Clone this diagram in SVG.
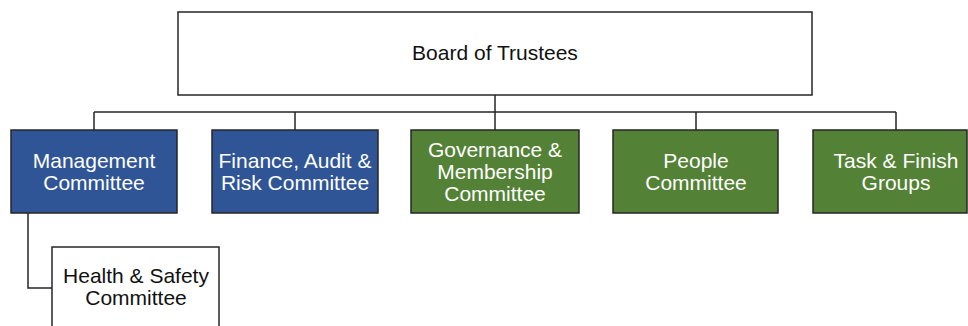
<svg xmlns="http://www.w3.org/2000/svg" width="968" height="326" viewBox="0 0 968 326">
<style>
.box{stroke:#262626;stroke-width:1.5}
.w{fill:#ffffff}
.b{fill:#2f5597}
.g{fill:#538135}
text{font-family:"Liberation Sans",Arial,sans-serif;font-size:21px;text-anchor:middle}
.tw{fill:#ffffff}
.tk{fill:#111111}
.conn{fill:none;stroke:#262626;stroke-width:1.5}
</style>
<rect width="968" height="326" fill="#ffffff"/>
<g id="connectors">
<path class="conn" d="M495 95V112M94 112H896M94 112V130M295 112V130M495 112V130M696 112V130M896 112V130"/>
<path class="conn" d="M28 213V288H52"/>
</g>
<g id="board">
<rect class="box w" x="178" y="12" width="634" height="83"/>
<text class="tk" x="495" y="60">Board of Trustees</text>
</g>
<g id="management">
<rect class="box b" x="11" y="130" width="166" height="83"/>
<text class="tw" x="94" y="168">Management</text>
<text class="tw" x="94" y="190">Committee</text>
</g>
<g id="finance">
<rect class="box b" x="212" y="130" width="166" height="83"/>
<text class="tw" x="295" y="168">Finance, Audit &amp;</text>
<text class="tw" x="295" y="190">Risk Committee</text>
</g>
<g id="governance">
<rect class="box g" x="411" y="130" width="168" height="83"/>
<text class="tw" x="495" y="157">Governance &amp;</text>
<text class="tw" x="495" y="179">Membership</text>
<text class="tw" x="495" y="201">Committee</text>
</g>
<g id="people">
<rect class="box g" x="613" y="130" width="165" height="83"/>
<text class="tw" x="696" y="168">People</text>
<text class="tw" x="696" y="190">Committee</text>
</g>
<g id="task">
<rect class="box g" x="813" y="130" width="154" height="83"/>
<text class="tw" x="896" y="168">Task &amp; Finish</text>
<text class="tw" x="896" y="190">Groups</text>
</g>
<g id="health">
<rect class="box w" x="52" y="247" width="167" height="100"/>
<text class="tk" x="136" y="283">Health &amp; Safety</text>
<text class="tk" x="136" y="305">Committee</text>
</g>
</svg>
